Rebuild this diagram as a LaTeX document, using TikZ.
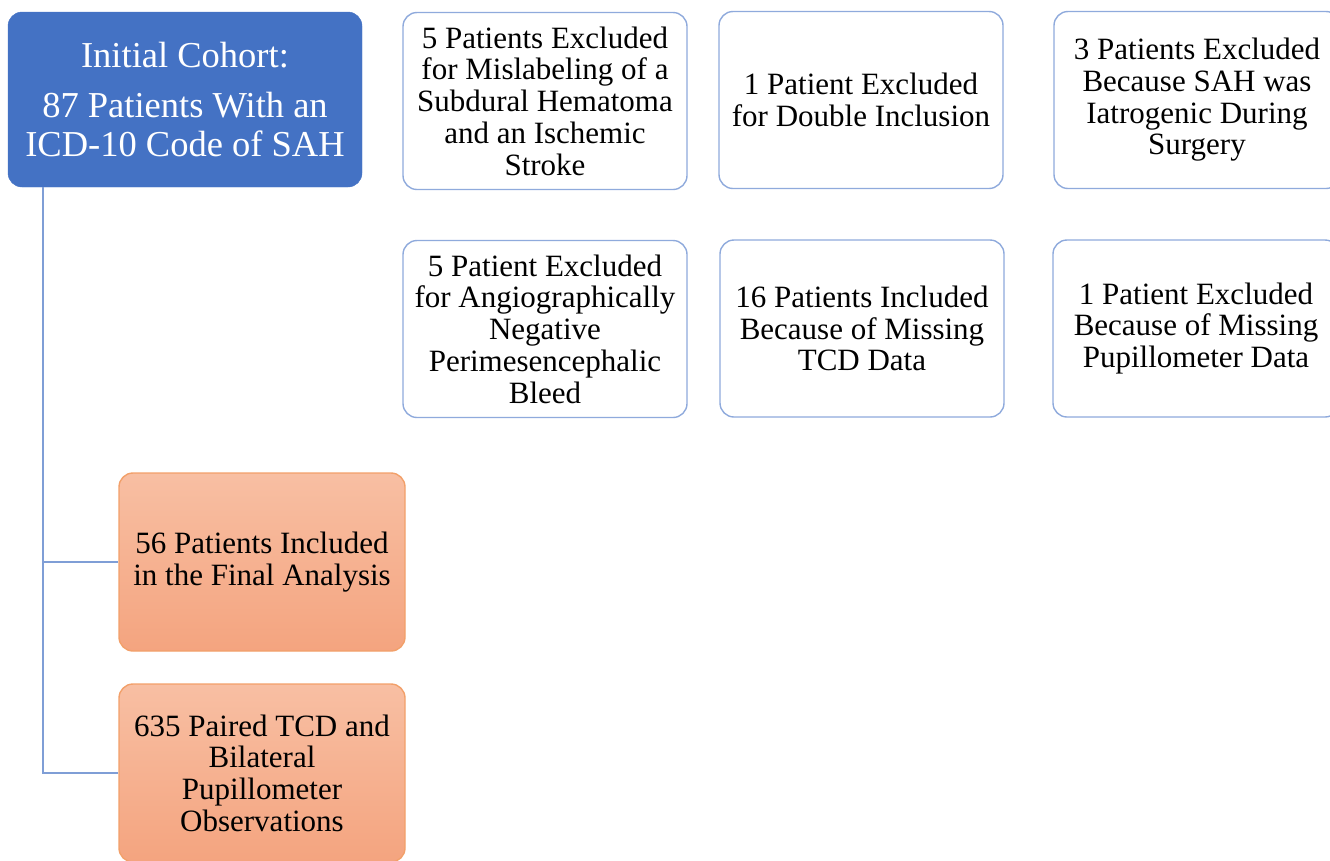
\documentclass[tikz,border=0pt]{standalone}
\usepackage{fontspec}
\setmainfont{Liberation Serif}
\definecolor{cblue}{HTML}{4472C4}
\definecolor{bordblue}{HTML}{8FAADC}
\definecolor{linkblue}{HTML}{7F9ED6}
\definecolor{orangetop}{HTML}{F8BFA3}
\definecolor{orangebot}{HTML}{F4A47F}
\definecolor{orangeborder}{HTML}{F2A06A}
\tikzset{
  basebox/.style={rounded corners=14pt, minimum width=284pt, minimum height=177pt, align=center, inner sep=0pt},
  whitebox/.style={basebox, draw=bordblue, line width=1.4pt, fill=white, font=\fontsize{31}{31.7}\selectfont},
  bluebox/.style={basebox, draw=cblue, fill=cblue, text=white, minimum width=354pt, minimum height=175pt, font=\fontsize{36.5}{39}\selectfont},
  orangebox/.style={basebox, draw=orangeborder, line width=1.4pt, top color=orangetop, bottom color=orangebot, minimum width=286pt, minimum height=178pt, font=\fontsize{31}{31.7}\selectfont},
  link/.style={draw=linkblue, line width=1.6pt}
}
\begin{document}
\begin{tikzpicture}[x=1pt,y=-1pt]
\useasboundingbox (0,0) rectangle (1330,860);
\node[bluebox] (init) at (185,99.5) {Initial Cohort:\\[11pt]87 Patients With an\\ICD-10 Code of SAH};
\node[whitebox] (b1) at (545,101) {5 Patients Excluded\\for Mislabeling of a\\Subdural Hematoma\\and an Ischemic\\Stroke};
\node[whitebox] (b2) at (861,100) {1 Patient Excluded\\for Double Inclusion};
\node[whitebox, minimum width=286pt] (b3) at (1197,100) {3 Patients Excluded\\Because SAH was\\Iatrogenic During\\Surgery};
\node[whitebox] (b4) at (545,329) {5 Patient Excluded\\for Angiographically\\Negative\\Perimesencephalic\\Bleed};
\node[whitebox] (b5) at (862,328.5) {16 Patients Included\\Because of Missing\\TCD Data};
\node[whitebox, minimum width=286pt] (b6) at (1196,328.5) {1 Patient Excluded\\Because of Missing\\Pupillometer Data};
\node[orangebox] (o1) at (262,562) {56 Patients Included\\in the Final Analysis};
\node[orangebox] (o2) at (262,773) {635 Paired TCD and\\Bilateral\\Pupillometer\\Observations};
\coordinate (j1) at (43,562);
\coordinate (j2) at (43,773);
\draw[link] (init.south -| j1) -- (j2) -- (o2.west);
\draw[link] (j1) -- (o1.west);
\end{tikzpicture}
\end{document}
